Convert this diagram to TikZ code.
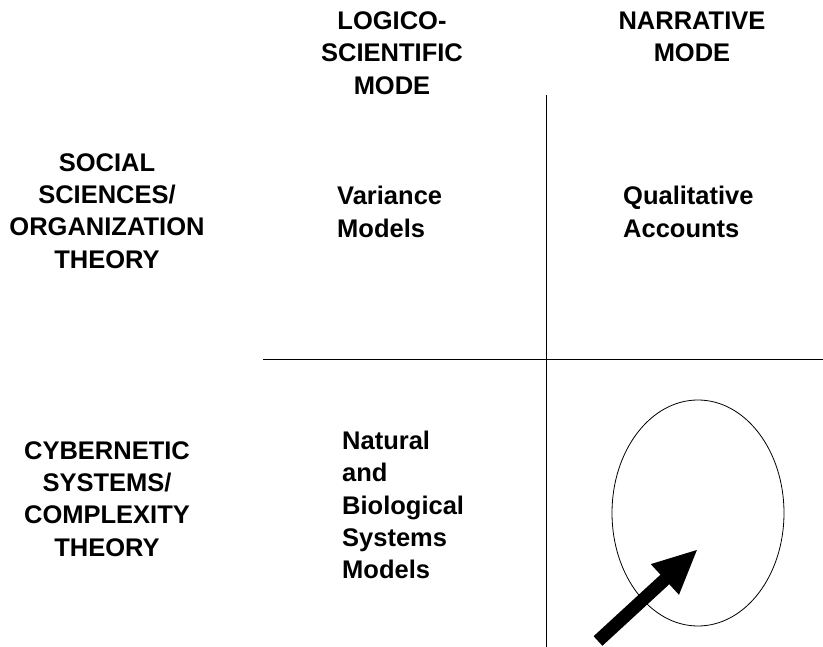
\documentclass[tikz,border=0pt]{standalone}
\usepackage{fontspec}
\setmainfont{Liberation Sans}
\usetikzlibrary{arrows.meta,positioning,shapes.geometric}

\begin{document}
\begin{tikzpicture}[
  x=1pt, y=-1pt,
  head/.style={align=center, inner sep=0pt, font=\bfseries\fontsize{25.5}{32.3}\selectfont},
  cell/.style={align=left, anchor=west, inner sep=0pt, font=\bfseries\fontsize{25.5}{32.3}\selectfont},
  divider/.style={draw=black, line width=1pt}
]
\useasboundingbox (0,0) rectangle (823,647);

% Column headings
\node[head] (logico) at (392,53) {LOGICO-\\SCIENTIFIC\\MODE};
\node[head] (narrative) at (692,37) {NARRATIVE\\MODE};

% Row headings
\node[head] (social) at (107,211) {SOCIAL\\SCIENCES/\\ORGANIZATION\\THEORY};
\node[head] (cyber) at (107,499) {CYBERNETIC\\SYSTEMS/\\COMPLEXITY\\THEORY};

% Cells
\node[cell] (variance) at (337,212) {Variance\\Models};
\node[cell] (qualitative) at (623,212) {Qualitative\\Accounts};
\node[cell] (natural) at (342,505) {Natural\\and\\Biological\\Systems\\Models};

% Grid
\coordinate (vtop) at (546,95);
\coordinate (vbot) at (546,647);
\coordinate (hleft) at (263,360);
\coordinate (hright) at (823,360);
\draw[divider] (vtop) -- (vbot);
\draw[divider] (hleft) -- (hright);

% Empty quadrant
\node[draw, ellipse, line width=0.8pt, minimum width=172pt, minimum height=226pt] (gap) at (698,513) {};
\coordinate (tail) at (598,641);
\coordinate (tip) at (698,549);
\draw[line width=13pt, -{Triangle[length=45pt, width=38pt]}] (tail) -- (tip);

\end{tikzpicture}
\end{document}
